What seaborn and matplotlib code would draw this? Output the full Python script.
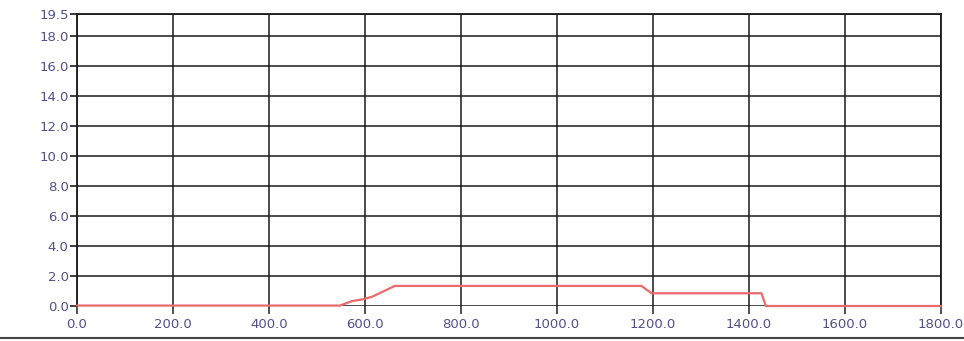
import matplotlib
matplotlib.use("Agg")
import matplotlib.pyplot as plt
import matplotlib.lines as mlines
import pandas as pd
import seaborn as sns

# Logged signal over time
time_s = [0, 548, 573, 596, 615, 662, 1176, 1197, 1426, 1435, 1800]
level = [0.03, 0.03, 0.33, 0.45, 0.62, 1.34, 1.34, 0.85, 0.85, 0.0, 0.0]

x_ticks = [0, 200, 400, 600, 800, 1000, 1200, 1400, 1600, 1800]
y_ticks = [0, 2, 4, 6, 8, 10, 12, 14, 16, 18, 19.5]

sns.set_theme(style="white")
plt.rcParams["font.family"] = ["DejaVu Sans"]

fig = plt.figure(figsize=(9.64, 3.41), dpi=100)
ax = fig.add_axes([77 / 964, 1 - 306 / 341, (941 - 77) / 964, (306 - 14) / 341])

df = pd.DataFrame({"time": time_s, "level": level})
sns.lineplot(data=df, x="time", y="level", ax=ax, color="#e86a6a",
             linewidth=1.6, zorder=3)
for line in ax.get_lines():
    line.set_clip_on(False)

ax.set_xlim(0, 1800)
ax.set_ylim(0, 19.5)
ax.set_xticks(x_ticks)
ax.set_xticklabels([f"{v:.1f}" for v in x_ticks])
ax.set_yticks(y_ticks)
ax.set_yticklabels([f"{v:.1f}" for v in y_ticks])
ax.set_xlabel("")
ax.set_ylabel("")

ax.grid(True, color="#1a1a1a", linewidth=1.1)
ax.set_axisbelow(True)
for side in ["left", "top", "right"]:
    ax.spines[side].set_visible(True)
    ax.spines[side].set_color("#1a1a1a")
    ax.spines[side].set_linewidth(1.3)
ax.spines["bottom"].set_visible(False)

ax.tick_params(axis="y", which="major", direction="out", length=5, width=1.2,
               color="#1a1a1a", labelsize=9.5, labelcolor="#50508c", pad=1, left=True)
ax.tick_params(axis="x", which="major", direction="out", length=6, width=1.2,
               color="#333333", labelsize=9.5, labelcolor="#50508c", pad=3, bottom=True)

# border line along the lower edge of the figure
fig.add_artist(mlines.Line2D([0, 1], [1 - 338 / 341] * 2, transform=fig.transFigure,
                             color="#444444", linewidth=1.5))

fig.savefig("out.png", dpi=100)
